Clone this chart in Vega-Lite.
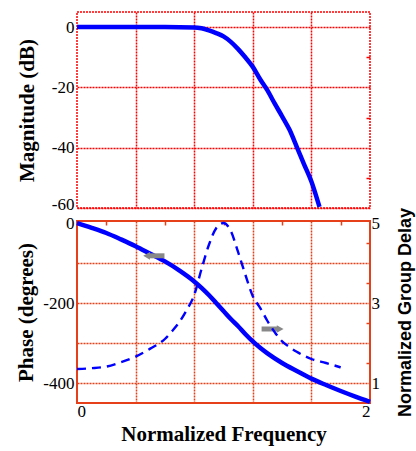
{
  "$schema": "https://vega.github.io/schema/vega-lite/v6.json",
  "padding": {"left": 14, "top": 11, "right": 2, "bottom": 2},
  "background": "white",
  "config": {
    "font": "Liberation Serif",
    "axis": {
      "labelFont": "Liberation Serif",
      "labelFontSize": 17,
      "labelColor": "black",
      "titleFont": "Liberation Serif",
      "titleFontSize": 21,
      "titleFontWeight": "bold",
      "titleColor": "black",
      "domain": false
    },
    "concat": {"spacing": 13}
  },
  "datasets": {
    "mag": [
      {"f": 0, "db": 0}, {"f": 0.2, "db": 0}, {"f": 0.4, "db": 0}, {"f": 0.6, "db": 0},
      {"f": 0.8, "db": -0.1}, {"f": 0.85, "db": -0.4}, {"f": 0.9, "db": -1.1}, {"f": 0.95, "db": -2.0},
      {"f": 1.0, "db": -3.1}, {"f": 1.05, "db": -4.9}, {"f": 1.1, "db": -7.3}, {"f": 1.15, "db": -10.1},
      {"f": 1.2, "db": -13.2}, {"f": 1.25, "db": -17.3}, {"f": 1.3, "db": -21.0}, {"f": 1.35, "db": -25.4},
      {"f": 1.4, "db": -29.6}, {"f": 1.45, "db": -34.0}, {"f": 1.5, "db": -39.7}, {"f": 1.55, "db": -45.5},
      {"f": 1.6, "db": -51.2}, {"f": 1.65, "db": -58.8}, {"f": 1.655, "db": -59.6}
    ],
    "phase": [
      {"f": 0, "p": 0}, {"f": 0.1, "p": -12}, {"f": 0.2, "p": -25}, {"f": 0.3, "p": -41},
      {"f": 0.4, "p": -58}, {"f": 0.5, "p": -77}, {"f": 0.6, "p": -96}, {"f": 0.7, "p": -119},
      {"f": 0.8, "p": -146}, {"f": 0.85, "p": -162}, {"f": 0.9, "p": -180}, {"f": 0.95, "p": -200},
      {"f": 1.0, "p": -220}, {"f": 1.05, "p": -240}, {"f": 1.1, "p": -258}, {"f": 1.15, "p": -278},
      {"f": 1.2, "p": -296}, {"f": 1.25, "p": -312}, {"f": 1.3, "p": -326}, {"f": 1.4, "p": -350},
      {"f": 1.5, "p": -370}, {"f": 1.6, "p": -389}, {"f": 1.7, "p": -405}, {"f": 1.8, "p": -420},
      {"f": 1.9, "p": -434}, {"f": 2.0, "p": -447}
    ],
    "gd": [
      {"f": 0, "g": 1.35}, {"f": 0.1, "g": 1.37}, {"f": 0.2, "g": 1.41}, {"f": 0.3, "g": 1.52},
      {"f": 0.4, "g": 1.66}, {"f": 0.5, "g": 1.86}, {"f": 0.6, "g": 2.1}, {"f": 0.65, "g": 2.3},
      {"f": 0.7, "g": 2.53}, {"f": 0.75, "g": 2.83}, {"f": 0.8, "g": 3.2}, {"f": 0.85, "g": 3.85},
      {"f": 0.9, "g": 4.45}, {"f": 0.95, "g": 4.87}, {"f": 1.0, "g": 5.0}, {"f": 1.05, "g": 4.8},
      {"f": 1.1, "g": 4.27}, {"f": 1.15, "g": 3.7}, {"f": 1.2, "g": 3.17}, {"f": 1.25, "g": 2.88},
      {"f": 1.3, "g": 2.55}, {"f": 1.35, "g": 2.27}, {"f": 1.4, "g": 2.04}, {"f": 1.45, "g": 1.9},
      {"f": 1.5, "g": 1.78}, {"f": 1.6, "g": 1.6}, {"f": 1.7, "g": 1.5}, {"f": 1.8, "g": 1.39}
    ],
    "arrows": [
      {"dir": "left", "x1": 0.49, "x2": 0.597, "hx": 0.475, "p": -82},
      {"dir": "right", "x1": 1.26, "x2": 1.37, "hx": 1.387, "p": -265}
    ]
  },
  "bounds": "flush",
  "vconcat": [
    {
      "width": 293,
      "height": 196,
      "view": {"stroke": "#ff0000", "strokeWidth": 1.5, "strokeDash": [2, 1]},
      "data": {"name": "mag"},
      "layer": [
        {
          "mark": {"type": "line", "color": "#0000ff", "strokeWidth": 4.5, "interpolate": "monotone"},
          "encoding": {
            "x": {
              "field": "f", "type": "quantitative",
              "scale": {"domain": [0, 2], "nice": false},
              "axis": {"values": [0.4, 0.8, 1.2, 1.6], "labels": false, "ticks": false, "title": null,
                       "grid": true, "gridColor": "#ff0000", "gridDash": [2, 1], "gridWidth": 1.5}
            },
            "y": {
              "field": "db", "type": "quantitative",
              "scale": {"domain": [-60, 5], "nice": false, "zero": false},
              "axis": {"values": [0, -20, -40, -60], "ticks": false, "labelPadding": 3,
                       "labelFont": "Liberation Serif",
                       "labelExpr": "toString(datum.value)",
                       "labelOffset": {"condition": {"test": "datum.value === -60", "value": -4}, "value": 0},
                       "title": "Magnitude (dB)", "titlePadding": 14,
                       "grid": true, "gridColor": "#ff0000", "gridDash": [2, 1], "gridWidth": 1.5}
            }
          }
        },
        {
          "mark": {"type": "point", "opacity": 0},
          "encoding": {
            "x": {"field": "f", "type": "quantitative"},
            "y": {
              "field": "db", "type": "quantitative",
              "axis": {"orient": "right", "values": [-10, -30, -50], "labels": false, "grid": false,
                       "tickSize": -4, "tickColor": "#ff0000", "tickWidth": 1.5, "title": null}
            }
          }
        }
      ],
      "resolve": {"axis": {"y": "independent"}}
    },
    {
      "width": 293,
      "height": 182,
      "view": {"stroke": "#e6401a", "strokeWidth": 2},
      "layer": [
        {
          "layer": [
            {
              "data": {"name": "phase"},
              "mark": {"type": "line", "color": "#0000ff", "strokeWidth": 4.5, "interpolate": "monotone"},
              "encoding": {
                "x": {
                  "field": "f", "type": "quantitative",
                  "scale": {"domain": [0, 2], "nice": false},
                  "axis": {
                    "orient": "bottom",
                    "values": [0, 0.2, 0.4, 0.6, 0.8, 1, 1.2, 1.4, 1.6, 1.8, 2],
                    "labelFont": "Liberation Serif",
                    "labelExpr": "datum.value % 1 === 0 ? toString(datum.value) : ''",
                    "labelPadding": 4,
                    "tickSize": -4, "tickColor": "#e6401a", "tickWidth": 1.5,
                    "tickOpacity": {"condition": {"test": "indexof([0.2, 0.6, 1, 1.4, 1.8], datum.value) >= 0", "value": 1}, "value": 0},
                    "grid": true, "gridColor": "#e6401a", "gridDash": [2, 1], "gridWidth": 1.5,
                    "gridOpacity": {"condition": {"test": "indexof([0.4, 0.8, 1.2, 1.6], datum.value) >= 0", "value": 1}, "value": 0},
                    "title": "Normalized Frequency", "titlePadding": 4
                  }
                },
                "y": {
                  "field": "p", "type": "quantitative",
                  "scale": {"domain": [-450, 5], "nice": false, "zero": false},
                  "axis": {
                    "values": [0, -100, -200, -300, -400],
                    "labelFont": "Liberation Serif",
                    "labelExpr": "datum.value % 200 === 0 ? toString(datum.value) : ''",
                    "ticks": false, "labelPadding": 3,
                    "grid": true, "gridColor": "#e6401a", "gridDash": [2, 1], "gridWidth": 1.5,
                    "gridOpacity": {"condition": {"test": "datum.value !== 0", "value": 1}, "value": 0},
                    "title": "Phase (degrees)", "titlePadding": 6
                  }
                }
              }
            },
            {
              "data": {"name": "arrows"},
              "mark": {"type": "rule", "color": "#888888", "strokeWidth": 5},
              "encoding": {
                "x": {"field": "x1", "type": "quantitative"},
                "x2": {"field": "x2"},
                "y": {"field": "p", "type": "quantitative"}
              }
            },
            {
              "data": {"name": "arrows"},
              "mark": {"type": "point", "filled": true, "color": "#888888", "opacity": 1, "size": 60},
              "encoding": {
                "x": {"field": "hx", "type": "quantitative"},
                "y": {"field": "p", "type": "quantitative"},
                "shape": {"field": "dir", "type": "nominal",
                          "scale": {"domain": ["left", "right"], "range": ["triangle-left", "triangle-right"]},
                          "legend": null}
              }
            }
          ]
        },
        {
          "data": {"name": "gd"},
          "mark": {"type": "line", "color": "#0000ff", "strokeWidth": 2.4, "strokeDash": [9, 6], "interpolate": "monotone"},
          "encoding": {
            "x": {
              "field": "f", "type": "quantitative",
              "axis": {"orient": "top", "values": [0.2, 0.6, 1, 1.4, 1.8], "labels": false, "grid": false,
                       "tickSize": -4, "tickColor": "#e6401a", "tickWidth": 1.5, "title": null}
            },
            "y": {
              "field": "g", "type": "quantitative",
              "scale": {"domain": [0.5, 5.05], "nice": false, "zero": false},
              "axis": {
                "orient": "right",
                "values": [1, 1.5, 2.5, 3, 3.5, 4.5, 5],
                "labelFont": "Liberation Serif",
                "labelExpr": "datum.value % 1 === 0 ? toString(datum.value) : ''",
                "labelPadding": 5,
                "tickSize": -4, "tickColor": "#e6401a", "tickWidth": 1.5,
                "tickOpacity": {"condition": {"test": "datum.value % 1 !== 0", "value": 1}, "value": 0},
                "grid": false,
                "title": "Normalized Group Delay",
                "titleFont": "Liberation Sans", "titleFontSize": 18,
                "titleAngle": 270, "titleBaseline": "middle", "titleAlign": "center",
                "titleX": 35
              }
            }
          }
        }
      ],
      "resolve": {"scale": {"y": "independent"}, "axis": {"x": "independent", "y": "independent"}}
    }
  ]
}
